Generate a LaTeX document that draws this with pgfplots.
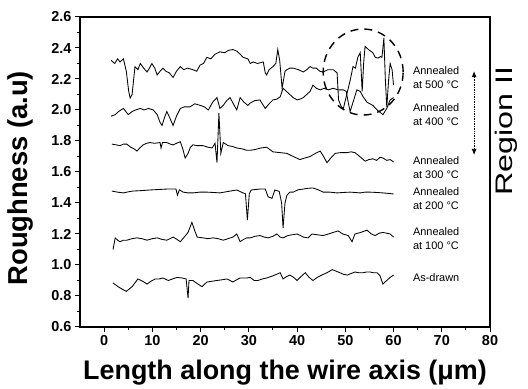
\documentclass[border=0pt]{standalone}
\usepackage{fontspec}
\setmainfont{Liberation Sans}
\usepackage{pgfplots}
\pgfplotsset{compat=1.18}
\usetikzlibrary{arrows.meta}

\pgfplotstableread{
x y
1.45 2.32
2.2 2.30
2.8 2.33
3.3 2.31
4.0 2.33
4.6 2.25
5.1 2.12
5.4 2.077
5.8 2.10
6.4 2.28
7.0 2.26
7.5 2.30
8.2 2.27
8.9 2.245
9.4 2.27
9.9 2.30
10.5 2.27
11 2.226
11.6 2.25
12.2 2.27
12.8 2.25
13.5 2.24
14.3 2.21
15.0 2.25
15.8 2.28
16.5 2.26
17.3 2.27
18.4 2.26
19.2 2.25
19.9 2.29
20.6 2.30
21.3 2.34
22.1 2.33
23 2.36
24 2.375
25 2.37
25.8 2.385
26.7 2.39
27.5 2.38
28.2 2.36
28.8 2.34
29.8 2.33
30.3 2.30
30.9 2.31
31.8 2.30
33 2.31
33.4 2.24
33.7 2.226
34.2 2.26
35 2.28
35.6 2.30
36.0 2.39
36.4 2.32
36.9 2.14
37.5 2.25
37.9 2.26
38.5 2.27
39.2 2.27
40.3 2.26
41.3 2.245
42 2.26
42.7 2.28
43.3 2.27
44 2.27
44.7 2.25
45.4 2.245
46.4 2.26
47.5 2.26
48.3 2.24
48.6 2.065
49.2 2.02
49.6 2.01
50.3 2.10
51 2.19
51.6 2.28
52.1 2.27
52.6 2.34
53.1 2.37
53.5 2.12
53.8 2.30
54.1 2.41
54.8 2.39
55.7 2.37
56.2 2.34
56.8 2.335
57.3 2.345
57.6 2.34
58.0 2.465
58.3 2.20
58.6 2.02
59.0 2.20
59.3 2.30
59.7 2.26
60 2.16
}\tabA

\pgfplotstableread{
x y
1.45 1.96
2.3 1.97
3.0 1.99
4 2.01
4.5 1.99
5 1.97
5.8 1.99
6.5 2.0
7.5 2.01
8.3 2.0
9.2 2.01
10.2 2.0
11.0 1.97
11.6 1.92
12 1.90
12.5 1.95
13 1.99
13.6 1.95
14.3 1.90
15 1.96
15.8 2.01
16.6 2.02
17.8 2.02
18.8 2.04
19.9 2.03
20.8 2.02
21.6 2.0
22.5 2.05
23.4 2.08
24.0 2.01
24.7 2.03
25.4 2.06
26.1 2.08
26.8 2.04
27.5 2.0
28.2 2.08
29 2.05
29.8 2.03
30.3 2.045
31.2 2.06
32.3 2.065
33 2.03
33.4 2.01
34.2 2.04
35 2.065
35.8 2.07
36.5 2.085
37.1 2.14
37.8 2.12
38.5 2.10
39.2 2.08
40 2.065
40.6 2.07
41.3 2.08
42 2.10
42.7 2.12
43.3 2.16
44 2.14
44.8 2.13
45.6 2.14
46.5 2.13
47.5 2.14
48.5 2.13
49.6 2.13
50.2 2.12
50.6 2.05
51 1.99
51.6 2.05
52.4 2.13
53.1 2.12
53.7 2.085
54.5 2.05
55.1 2.04
55.7 2.03
56.6 2.0
57.8 1.97
58.6 2.01
59.3 2.065
60 2.08
}\tabB

\pgfplotstableread{
x y
1.6 1.78
2.5 1.775
3.3 1.77
4.0 1.78
4.7 1.78
5.5 1.76
6.2 1.75
6.8 1.735
7.4 1.755
8.1 1.775
8.8 1.785
9.5 1.79
10.5 1.785
11.6 1.79
11.8 1.755
12.1 1.79
13 1.79
13.7 1.78
14.3 1.775
15 1.785
15.8 1.795
16.3 1.75
16.8 1.69
17.4 1.72
17.9 1.76
18.4 1.775
19.4 1.77
20.5 1.77
21.5 1.76
22.4 1.755
23 1.785
23.4 1.66
23.8 1.98
24.2 1.72
24.7 1.79
25.7 1.77
26.6 1.765
27.5 1.755
28.5 1.75
29.6 1.74
30.3 1.74
31.3 1.745
32.5 1.755
33.7 1.76
35 1.73
36.5 1.725
37.9 1.72
39.2 1.70
40.6 1.68
41.6 1.69
42.7 1.70
43.8 1.72
44.8 1.735
45.5 1.70
46.2 1.66
47 1.69
47.9 1.72
49 1.725
50.4 1.725
51.2 1.73
52 1.725
53 1.70
54.1 1.67
54.9 1.68
55.7 1.685
56.5 1.675
57.2 1.695
57.8 1.69
58.6 1.675
59.3 1.68
60 1.665
}\tabC

\pgfplotstableread{
x y
1.6 1.477
2.8 1.47
4 1.465
5 1.472
6 1.477
7.8 1.48
9.5 1.484
11.3 1.487
13 1.49
14.9 1.49
15.2 1.45
15.6 1.485
16.4 1.47
17.4 1.465
18.4 1.465
19.8 1.47
21.3 1.47
22.6 1.468
24 1.465
25.8 1.475
27.5 1.484
28.8 1.465
29.3 1.46
29.7 1.29
30.1 1.46
30.5 1.484
32.3 1.49
33.4 1.49
34 1.44
34.8 1.43
35.4 1.484
36.3 1.475
36.8 1.40
37.1 1.24
37.5 1.40
37.9 1.45
38.5 1.47
39.2 1.47
40.2 1.485
41.3 1.49
42.3 1.495
43.3 1.497
44.4 1.485
45.4 1.47
46.8 1.47
48.3 1.465
49.6 1.468
51 1.47
52 1.468
53.1 1.465
54.1 1.47
55.1 1.47
56.5 1.468
57.8 1.465
58.9 1.462
60 1.458
}\tabD

\pgfplotstableread{
x y
1.85 1.10
2.3 1.175
2.8 1.16
3.3 1.15
4.0 1.16
4.7 1.16
5.8 1.17
6.8 1.175
7.8 1.17
8.9 1.16
10 1.17
11 1.175
12 1.165
13 1.16
14.3 1.18
15.1 1.165
15.8 1.15
16.6 1.18
17.4 1.21
18.2 1.275
18.8 1.22
19.3 1.18
20.5 1.175
21.5 1.17
22.6 1.175
23.6 1.17
24.7 1.16
25.7 1.17
26.7 1.18
27.5 1.20
28.2 1.15
28.9 1.165
29.6 1.175
30.3 1.175
31.3 1.185
32.3 1.19
33.2 1.18
34 1.175
35 1.185
35.8 1.20
36.5 1.18
37.1 1.175
38.1 1.19
39 1.195
40 1.20
40.7 1.19
41.3 1.18
42.3 1.175
43.1 1.20
44.2 1.195
45.4 1.19
46.5 1.20
47.5 1.21
48.5 1.22
49.5 1.20
50.6 1.19
51.4 1.15
52 1.20
53.2 1.21
54.5 1.225
55.4 1.20
56.2 1.19
57 1.205
57.8 1.21
58.6 1.205
59.3 1.20
60 1.18
}\tabE

\pgfplotstableread{
x y
1.85 0.884
2.9 0.86
3.7 0.845
4.6 0.83
5.2 0.845
5.8 0.86
6.4 0.885
7 0.91
8 0.895
8.9 0.877
9.7 0.895
10.6 0.91
11.4 0.91
12.2 0.916
13.3 0.90
14.2 0.91
15.1 0.92
16.2 0.916
17 0.91
17.4 0.787
17.6 0.90
18.4 0.90
19.3 0.88
20.3 0.86
21.3 0.89
22.3 0.895
23.4 0.90
24.5 0.905
25.5 0.91
26.7 0.89
27.5 0.905
28.2 0.916
29.6 0.916
30.3 0.92
31.1 0.90
31.9 0.90
32.8 0.91
33.7 0.916
35 0.93
36.5 0.95
37.1 0.91
37.8 0.925
38.5 0.935
39.3 0.92
40 0.90
40.8 0.925
41.7 0.95
42.5 0.92
43.3 0.90
44.2 0.92
45.1 0.935
46.2 0.95
47.3 0.97
48.1 0.96
48.9 0.95
49.6 0.94
50.4 0.935
51.2 0.945
52 0.955
52.8 0.95
53.7 0.95
54.4 0.955
55.1 0.955
55.8 0.95
56.6 0.95
57.2 0.93
57.8 0.877
58.2 0.89
58.6 0.90
59.3 0.92
60 0.935
}\tabF

\begin{document}
\begin{tikzpicture}
\begin{axis}[
  scale only axis,
  width=410bp, height=310bp,
  xmin=-5, xmax=80, ymin=0.6, ymax=2.6,
  xtick={0,10,...,80},
  ytick={0.6,0.8,...,2.6},
  minor x tick num=1, minor y tick num=1,
  tick align=outside,
  xtick pos=left, ytick pos=left,
  major tick length=5bp, minor tick length=3bp,
  axis line style={line width=1.5bp},
  every tick/.style={black, line width=1bp},
  /pgf/number format/assume math mode=true,
  yticklabel style={/pgf/number format/fixed, /pgf/number format/fixed zerofill, /pgf/number format/precision=1},
  ticklabel style={font=\bfseries\fontsize{14.5}{14.5}\selectfont},
  xlabel={Length along the wire axis (μm)},
  ylabel={Roughness (a.u)},
  xlabel style={font=\bfseries\fontsize{27}{27}\selectfont, at={(axis description cs:0.5,0)}, yshift=-46bp, anchor=center},
  ylabel style={font=\bfseries\fontsize{27.5}{27.5}\selectfont, at={(axis description cs:-0.146,0.48)}, anchor=center},
  clip=false,
]
\addplot[black, line width=0.85bp, no markers] table {\tabA};
\addplot[black, line width=0.85bp, no markers] table {\tabB};
\addplot[black, line width=0.85bp, no markers] table {\tabC};
\addplot[black, line width=0.85bp, no markers] table {\tabD};
\addplot[black, line width=0.85bp, no markers] table {\tabE};
\addplot[black, line width=0.85bp, no markers] table {\tabF};

\begin{scope}[every node/.style={font=\fontsize{11}{14.5}\selectfont, anchor=west, align=left, inner sep=0pt}]
\node at (axis cs:64,2.21) {Annealed\\at 500 °C};
\node at (axis cs:64,1.97) {Annealed\\at 400 °C};
\node at (axis cs:64,1.63) {Annealed\\at 300 °C};
\node at (axis cs:64,1.43) {Annealed\\at 200 °C};
\node at (axis cs:64,1.17) {Annealed\\at 100 °C};
\node at (axis cs:64,0.92) {As-drawn};
\end{scope}

\draw[line width=1.4bp, dash pattern=on 8bp off 6bp] (axis cs:53.7,2.245) ellipse [x radius=40bp, y radius=43bp];
\draw[densely dotted, line width=0.7bp, {Latex[length=6bp,width=5bp]}-{Latex[length=6bp,width=5bp]}] (axis cs:76.7,2.25) -- (axis cs:76.7,1.71);
\node[rotate=90, anchor=center, inner sep=0pt] at (axis cs:83.3,1.865) {\scalebox{1.35}[1]{\fontsize{24}{24}\selectfont Region II}};
\end{axis}
\path (current axis.south west) ++(-80bp,-60bp) coordinate (bbA);
\path (current axis.north east) ++(38bp,17bp) coordinate (bbB);
\useasboundingbox (bbA) rectangle (bbB);
\end{tikzpicture}
\end{document}
